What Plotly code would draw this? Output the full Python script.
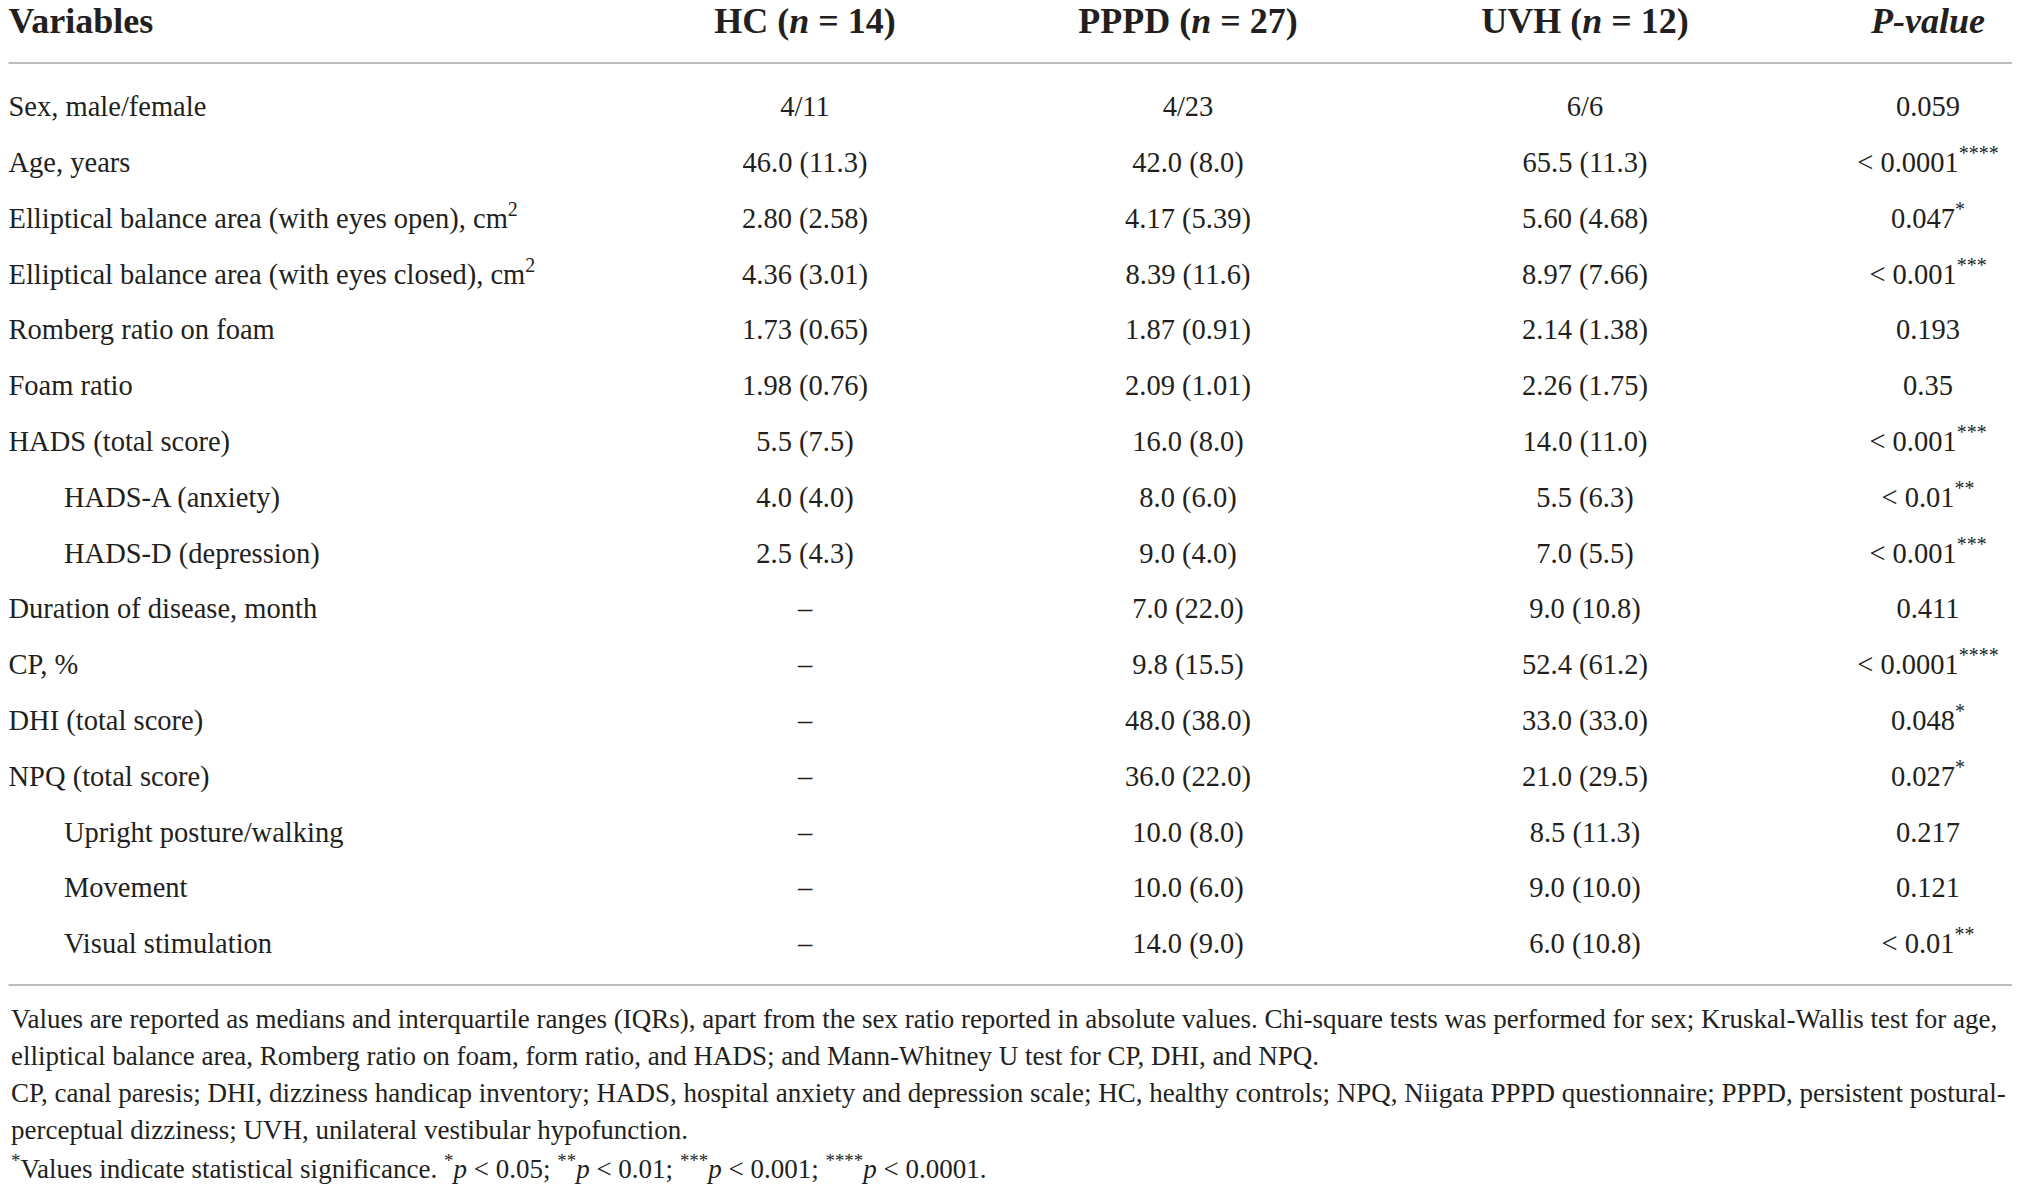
import plotly.graph_objects as go

# table content (medians with IQR)
variables = [
    "Sex, male/female",
    "Age, years",
    "Elliptical balance area (with eyes open), cm<sup>2</sup>",
    "Elliptical balance area (with eyes closed), cm<sup>2</sup>",
    "Romberg ratio on foam",
    "Foam ratio",
    "HADS (total score)",
    "HADS-A (anxiety)",
    "HADS-D (depression)",
    "Duration of disease, month",
    "CP, %",
    "DHI (total score)",
    "NPQ (total score)",
    "Upright posture/walking",
    "Movement",
    "Visual stimulation",
]
# sub-items of HADS and NPQ
sub_items = ["HADS-A (anxiety)", "HADS-D (depression)",
             "Upright posture/walking", "Movement", "Visual stimulation"]

hc = ["4/11", "46.0 (11.3)", "2.80 (2.58)", "4.36 (3.01)", "1.73 (0.65)",
      "1.98 (0.76)", "5.5 (7.5)", "4.0 (4.0)", "2.5 (4.3)",
      "–", "–", "–", "–", "–", "–", "–"]
pppd = ["4/23", "42.0 (8.0)", "4.17 (5.39)", "8.39 (11.6)", "1.87 (0.91)",
        "2.09 (1.01)", "16.0 (8.0)", "8.0 (6.0)", "9.0 (4.0)", "7.0 (22.0)",
        "9.8 (15.5)", "48.0 (38.0)", "36.0 (22.0)", "10.0 (8.0)",
        "10.0 (6.0)", "14.0 (9.0)"]
uvh = ["6/6", "65.5 (11.3)", "5.60 (4.68)", "8.97 (7.66)", "2.14 (1.38)",
       "2.26 (1.75)", "14.0 (11.0)", "5.5 (6.3)", "7.0 (5.5)", "9.0 (10.8)",
       "52.4 (61.2)", "33.0 (33.0)", "21.0 (29.5)", "8.5 (11.3)",
       "9.0 (10.0)", "6.0 (10.8)"]
p_values = ["0.059", "&lt; 0.0001<sup>****</sup>", "0.047<sup>*</sup>",
            "&lt; 0.001<sup>***</sup>", "0.193", "0.35",
            "&lt; 0.001<sup>***</sup>", "&lt; 0.01<sup>**</sup>",
            "&lt; 0.001<sup>***</sup>", "0.411", "&lt; 0.0001<sup>****</sup>",
            "0.048<sup>*</sup>", "0.027<sup>*</sup>", "0.217", "0.121",
            "&lt; 0.01<sup>**</sup>"]

headers = ["Variables", "HC (<i>n</i> = 14)", "PPPD (<i>n</i> = 27)",
           "UVH (<i>n</i> = 12)", "<i>P-value</i>"]

footnotes = [
    "Values are reported as medians and interquartile ranges (IQRs), apart from the sex ratio reported in absolute values. "
    "Chi-square tests was performed for sex; Kruskal-Wallis test for age,",
    "elliptical balance area, Romberg ratio on foam, form ratio, and HADS; and Mann-Whitney U test for CP, DHI, and NPQ.",
    "CP, canal paresis; DHI, dizziness handicap inventory; HADS, hospital anxiety and depression scale; HC, healthy controls; "
    "NPQ, Niigata PPPD questionnaire; PPPD, persistent postural-",
    "perceptual dizziness; UVH, unilateral vestibular hypofunction.",
    "<sup>*</sup>Values indicate statistical significance. <sup>*</sup><i>p</i> &lt; 0.05; <sup>**</sup><i>p</i> &lt; 0.01; "
    "<sup>***</sup><i>p</i> &lt; 0.001; <sup>****</sup><i>p</i> &lt; 0.0001.",
]

W, H = 2025, 1187
OFF = 8  # page body margin, axes are shifted so values are window pixels
font = "Liberation Serif"
ink = "#231f20"
rule = "#a6a6a6"

left = OFF + 0.5
col_x = [left, 805, 1188, 1585, 1928]
row_y = [109 + 55.8 * i for i in range(len(variables))]
header_y = 24

fig = go.Figure()

# variable names
fig.add_trace(go.Scatter(
    x=[64 if v in sub_items else left for v in variables], y=row_y,
    text=variables, mode="text", textposition="middle right", cliponaxis=False,
    textfont=dict(family=font, size=28.5, color=ink), hoverinfo="skip"))

for cx, vals in zip(col_x[1:], [hc, pppd, uvh, p_values]):
    fig.add_trace(go.Scatter(
        x=[cx] * len(vals), y=row_y, text=vals, mode="text",
        textposition="middle center", cliponaxis=False,
        textfont=dict(family=font, size=28.5, color=ink), hoverinfo="skip"))

# header row
fig.add_trace(go.Scatter(
    x=[left], y=[header_y], text=[f"<b>{headers[0]}</b>"], mode="text",
    textposition="middle right", cliponaxis=False,
    textfont=dict(family=font, size=36, color=ink), hoverinfo="skip"))
fig.add_trace(go.Scatter(
    x=col_x[1:], y=[header_y] * 4, text=[f"<b>{h}</b>" for h in headers[1:]],
    mode="text", textposition="middle center", cliponaxis=False,
    textfont=dict(family=font, size=36, color=ink), hoverinfo="skip"))

# rules
for yy in [63, 985]:
    fig.add_shape(type="line", x0=left, x1=2012, y0=yy, y1=yy, xref="x", yref="y",
                  line=dict(color=rule, width=1.6))

for i, note in enumerate(footnotes):
    fig.add_annotation(x=left, y=1019 + 37 * i, xref="x", yref="y", text=note,
                       showarrow=False, xanchor="left", yanchor="middle",
                       font=dict(family=font, size=27, color=ink))

fig.update_xaxes(range=[OFF, W + OFF], visible=False, fixedrange=True)
fig.update_yaxes(range=[H + OFF, OFF], visible=False, fixedrange=True)
fig.update_layout(width=W, height=H, margin=dict(l=0, r=0, t=0, b=0),
                  paper_bgcolor="white", plot_bgcolor="white", showlegend=False)

fig.write_html("out.html")
